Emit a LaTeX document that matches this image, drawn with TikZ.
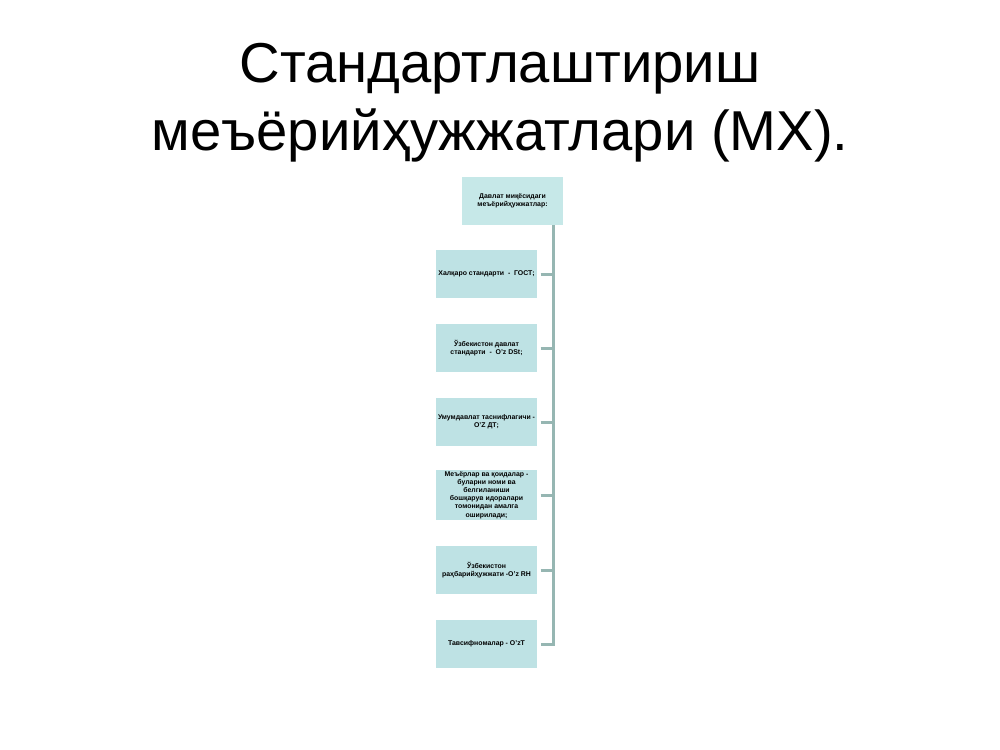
\documentclass[tikz,border=0pt]{standalone}
\usepackage{fontspec}
\setmainfont{Liberation Sans}
\definecolor{boxfill}{RGB}{190,226,228}
\definecolor{topfill}{RGB}{198,232,232}
\definecolor{linkcol}{RGB}{150,182,178}
\tikzset{
  item/.style={fill=boxfill, minimum width=30.3mm, minimum height=14.4mm,
    inner sep=1pt, align=center, font=\fontsize{5.9}{7}\selectfont\bfseries},
  link/.style={draw=linkcol, line width=0.9mm}
}

\begin{document}
\begin{tikzpicture}[x=0.3mm,y=-0.3mm]
 \useasboundingbox[fill=white] (0,0) rectangle (1000,750);

 % title
 \node (title) at (500,103) [align=center, font=\fontsize{48}{58}\selectfont]
  {Стандартлаштириш\\меъёрийҳужжатлари (МХ).};

 % boxes
 \node[item, fill=topfill] (top) at (512.5,201) {Давлат миқёсидаги\\меъёрийҳужжатлар:};
 \node[item] (gost) at (486.5,274) {Халқаро стандарти\ \ -\ \ ГОСТ;};
 \node[item] (dst) at (486.5,348) {Ўзбекистон давлат\\стандарти\ \ -\ \ O'z DSt;};
 \node[item] (dt) at (486.5,422) {Умумдавлат таснифлагичи -\\O'Z ДТ;};
 \node[item, minimum height=15mm] (qoida) at (486.5,495)
  {Меъёрлар ва қоидалар -\\буларни номи ва\\белгиланиши\\бошқарув идоралари\\томонидан амалга\\оширилади;};
 \node[item] (rh) at (486.5,570) {Ўзбекистон\\раҳбарийҳужжати -O'z RH};
 \node[item] (ozt) at (486.5,644) {Тавсифномалар - O'zT};

 % connectors
 \coordinate (spine) at (553,0);
 \draw[link] (top.south -| spine) |- ([xshift=1mm]ozt.east);
 \draw[link] ([xshift=1mm]gost.east) -- (gost.east -| spine);
 \draw[link] ([xshift=1mm]dst.east) -- (dst.east -| spine);
 \draw[link] ([xshift=1mm]dt.east) -- (dt.east -| spine);
 \draw[link] ([xshift=1mm]qoida.east) -- (qoida.east -| spine);
 \draw[link] ([xshift=1mm]rh.east) -- (rh.east -| spine);

\end{tikzpicture}
\end{document}
